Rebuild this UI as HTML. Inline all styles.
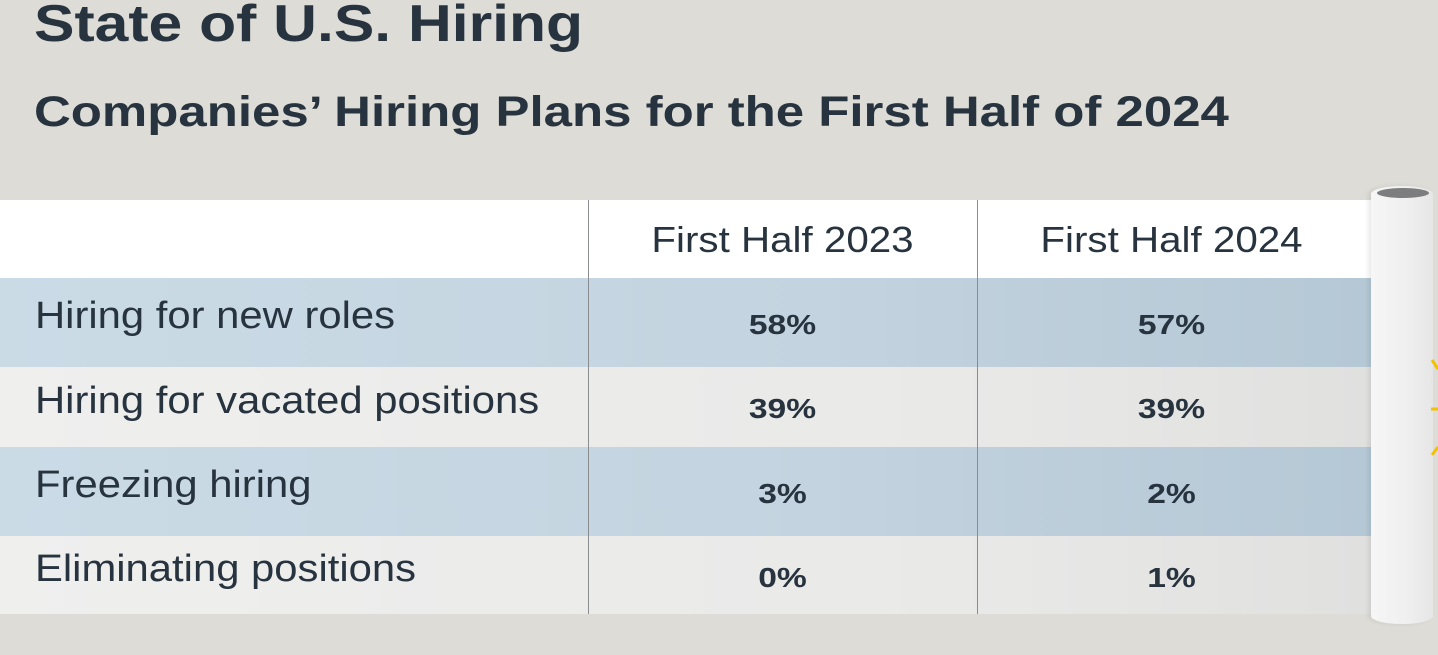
<!DOCTYPE html>
<html><head><meta charset="utf-8"><style>
html,body{margin:0;padding:0}
body{width:1438px;height:655px;background:#dddcd7;position:relative;overflow:hidden;font-family:"Liberation Sans","DejaVu Sans",sans-serif;color:#27333e}
.t1{position:absolute;left:34px;top:-6px;font-size:52px;font-weight:bold;white-space:nowrap;transform:scaleX(1.166);transform-origin:0 0}
.t2{position:absolute;left:34px;top:88px;font-size:43px;font-weight:bold;white-space:nowrap;transform:scaleX(1.185);transform-origin:0 0}
.row{position:absolute;left:0;width:1371px}
.lab{position:absolute;left:35px;font-size:38px;white-space:nowrap;transform:scaleX(1.1);transform-origin:0 0}
.v{position:absolute;width:389px;text-align:center;font-size:28px;font-weight:bold;transform:scaleX(1.2)}
.h{position:absolute;width:389px;text-align:center;font-size:36px;transform:scaleX(1.12)}
.blue{background:linear-gradient(90deg,#cbdbe6,#c3d3df 60%,#b5c8d5)}
.gray{background:linear-gradient(90deg,#efefee,#e9e9e8 70%,#e0e0df)}
.vl{position:absolute;top:200px;height:414px;width:1px;background:#8a8d90}
</style></head><body>
<div class="t1">State of U.S. Hiring</div>
<div class="t2">Companies’ Hiring Plans for the First Half of 2024</div>

<div class="row" style="top:200px;height:78px;background:#fff">
 <div class="h" style="left:588px;top:19px">First Half 2023</div>
 <div class="h" style="left:977px;top:19px">First Half 2024</div>
</div>
<div class="row blue" style="top:278px;height:89px">
 <div class="lab" style="top:17px">Hiring for new roles</div>
 <div class="v" style="left:588px;top:31px">58%</div><div class="v" style="left:977px;top:31px">57%</div>
</div>
<div class="row gray" style="top:367px;height:80px">
 <div class="lab" style="top:13px">Hiring for vacated positions</div>
 <div class="v" style="left:588px;top:26px">39%</div><div class="v" style="left:977px;top:26px">39%</div>
</div>
<div class="row blue" style="top:447px;height:89px">
 <div class="lab" style="top:17px">Freezing hiring</div>
 <div class="v" style="left:588px;top:31px">3%</div><div class="v" style="left:977px;top:31px">2%</div>
</div>
<div class="row gray" style="top:536px;height:78px">
 <div class="lab" style="top:12px">Eliminating positions</div>
 <div class="v" style="left:588px;top:26px">0%</div><div class="v" style="left:977px;top:26px">1%</div>
</div>
<div class="vl" style="left:588px"></div>
<div class="vl" style="left:977px"></div>

<div style="position:absolute;left:1371px;top:186px;width:62px;height:438px;background:linear-gradient(90deg,#f6f6f6,#efefef 60%,#e6e6e6);border-radius:30px/8px;box-shadow:-3px 0 4px rgba(0,0,0,0.08)"></div>
<div style="position:absolute;left:1377px;top:188px;width:52px;height:10px;border-radius:50%;background:#7b7d7f"></div>
<svg style="position:absolute;left:1428px;top:355px" width="12" height="110">
 <path d="M4 5 L10 14 M3 54 L10 54 M4 100 L10 92" stroke="#f2c200" stroke-width="3" fill="none"/>
</svg>
</body></html>
